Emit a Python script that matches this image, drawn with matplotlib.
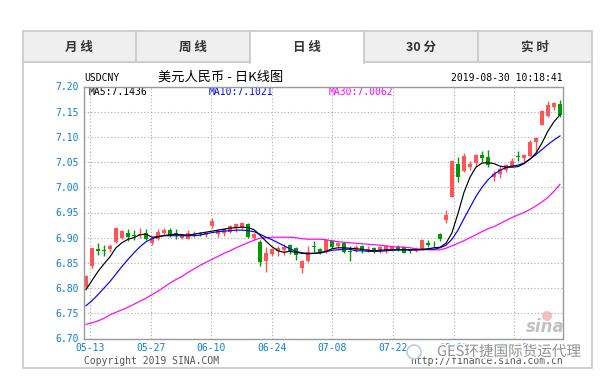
import numpy as np
import matplotlib
matplotlib.use('Agg')
import matplotlib.pyplot as plt
from matplotlib.patches import Rectangle, Circle
import matplotlib.patheffects as pe

MONO = ['DejaVu Sans Mono', 'Noto Sans CJK SC']
CJK = ['Noto Sans CJK SC', 'DejaVu Sans']

# daily candles, USD/CNY
opens = [6.803, 6.843, 6.877, 6.876, 6.877, 6.892, 6.900, 6.909, 6.906, 6.906,
         6.910, 6.890, 6.897, 6.909, 6.915, 6.909, 6.900, 6.898, 6.905, 6.909,
         6.905, 6.923, 6.907, 6.909, 6.912, 6.919, 6.922, 6.927, 6.899, 6.891,
         6.854, 6.868, 6.874, 6.876, 6.885, 6.879, 6.839, 6.854, 6.883, 6.877,
         6.872, 6.894, 6.884, 6.889, 6.873, 6.876, 6.884, 6.876, 6.879, 6.876,
         6.876, 6.877, 6.882, 6.882, 6.875, 6.874, 6.877, 6.890, 6.888, 6.907,
         6.935, 6.981, 7.046, 7.033, 7.040, 7.049, 7.064, 7.060, 7.021, 7.026,
         7.034, 7.042, 7.062, 7.058, 7.063, 7.090, 7.124, 7.141, 7.159, 7.165]
highs = [6.826, 6.880, 6.889, 6.886, 6.888, 6.922, 6.916, 6.917, 6.916, 6.920,
         6.917, 6.901, 6.917, 6.920, 6.920, 6.917, 6.908, 6.916, 6.914, 6.912,
         6.911, 6.939, 6.918, 6.920, 6.926, 6.930, 6.932, 6.930, 6.910, 6.895,
         6.881, 6.880, 6.884, 6.888, 6.888, 6.882, 6.856, 6.884, 6.894, 6.879,
         6.896, 6.896, 6.892, 6.892, 6.884, 6.885, 6.885, 6.883, 6.882, 6.884,
         6.886, 6.884, 6.886, 6.884, 6.877, 6.882, 6.897, 6.895, 6.893, 6.910,
         6.954, 7.054, 7.060, 7.069, 7.052, 7.067, 7.072, 7.074, 7.032, 7.042,
         7.046, 7.058, 7.072, 7.066, 7.093, 7.100, 7.154, 7.172, 7.170, 7.173]
lows = [6.800, 6.840, 6.865, 6.864, 6.872, 6.889, 6.897, 6.893, 6.896, 6.900,
        6.896, 6.885, 6.895, 6.905, 6.902, 6.897, 6.897, 6.897, 6.902, 6.904,
        6.902, 6.919, 6.902, 6.903, 6.909, 6.912, 6.917, 6.900, 6.895, 6.843,
        6.831, 6.864, 6.864, 6.866, 6.868, 6.856, 6.829, 6.851, 6.871, 6.867,
        6.870, 6.879, 6.879, 6.870, 6.854, 6.872, 6.869, 6.871, 6.869, 6.870,
        6.870, 6.873, 6.874, 6.869, 6.869, 6.872, 6.876, 6.881, 6.881, 6.894,
        6.929, 6.980, 7.011, 7.031, 7.034, 7.042, 7.051, 7.041, 7.012, 7.018,
        7.030, 7.040, 7.052, 7.050, 7.062, 7.071, 7.123, 7.139, 7.154, 7.140]
closes = [6.824, 6.879, 6.874, 6.873, 6.884, 6.920, 6.914, 6.901, 6.904, 6.908,
          6.898, 6.899, 6.911, 6.915, 6.905, 6.906, 6.904, 6.909, 6.907, 6.908,
          6.909, 6.934, 6.913, 6.917, 6.923, 6.927, 6.929, 6.902, 6.907, 6.851,
          6.870, 6.877, 6.879, 6.882, 6.874, 6.866, 6.853, 6.872, 6.882, 6.870,
          6.895, 6.882, 6.890, 6.872, 6.871, 6.881, 6.876, 6.878, 6.871, 6.882,
          6.884, 6.882, 6.877, 6.870, 6.874, 6.879, 6.895, 6.885, 6.887, 6.898,
          6.945, 7.053, 7.020, 7.062, 7.046, 7.064, 7.059, 7.044, 7.026, 7.036,
          7.044, 7.053, 7.060, 7.064, 7.089, 7.098, 7.152, 7.163, 7.167, 7.143]

ma5 = [6.797, 6.815, 6.833, 6.848, 6.862, 6.880, 6.890, 6.897, 6.900, 6.906,
       6.907, 6.901, 6.902, 6.904, 6.906, 6.907, 6.906, 6.905, 6.907, 6.909,
       6.911, 6.913, 6.915, 6.917, 6.919, 6.920, 6.921, 6.920, 6.916, 6.905,
       6.893, 6.882, 6.874, 6.871, 6.873, 6.871, 6.869, 6.868, 6.869, 6.870,
       6.873, 6.878, 6.880, 6.880, 6.879, 6.878, 6.877, 6.875, 6.874, 6.875,
       6.876, 6.876, 6.876, 6.876, 6.876, 6.876, 6.877, 6.878, 6.880, 6.881,
       6.889, 6.910, 6.948, 6.990, 7.020, 7.040, 7.048, 7.049, 7.047, 7.042,
       7.040, 7.040, 7.041, 7.047, 7.056, 7.068, 7.088, 7.112, 7.130, 7.144]
ma10 = [6.765, 6.775, 6.787, 6.800, 6.813, 6.828, 6.843, 6.857, 6.870, 6.882,
        6.892, 6.898, 6.902, 6.904, 6.904, 6.904, 6.904, 6.904, 6.904, 6.905,
        6.908, 6.910, 6.912, 6.913, 6.914, 6.915, 6.915, 6.914, 6.912, 6.907,
        6.901, 6.896, 6.890, 6.884, 6.878, 6.873, 6.870, 6.869, 6.869, 6.870,
        6.872, 6.875, 6.876, 6.877, 6.877, 6.874, 6.874, 6.873, 6.873, 6.873,
        6.874, 6.875, 6.876, 6.876, 6.876, 6.876, 6.876, 6.877, 6.877, 6.880,
        6.885, 6.897, 6.915, 6.938, 6.960, 6.982, 7.000, 7.015, 7.026, 7.034,
        7.039, 7.042, 7.044, 7.048, 7.056, 7.065, 7.075, 7.085, 7.094, 7.102]
ma30 = [6.728, 6.731, 6.735, 6.740, 6.747, 6.752, 6.757, 6.762, 6.768, 6.774,
        6.780, 6.787, 6.794, 6.802, 6.810, 6.817, 6.823, 6.831, 6.838, 6.845,
        6.851, 6.857, 6.863, 6.869, 6.874, 6.880, 6.885, 6.890, 6.895, 6.899,
        6.900, 6.901, 6.901, 6.901, 6.901, 6.900, 6.898, 6.897, 6.897, 6.897,
        6.896, 6.894, 6.892, 6.891, 6.890, 6.889, 6.888, 6.887, 6.886, 6.885,
        6.884, 6.882, 6.882, 6.881, 6.880, 6.878, 6.877, 6.876, 6.876, 6.876,
        6.879, 6.884, 6.889, 6.894, 6.900, 6.906, 6.912, 6.918, 6.922, 6.928,
        6.934, 6.940, 6.945, 6.950, 6.956, 6.963, 6.971, 6.980, 6.992, 7.006]

dates = ['05-13', '05-27', '06-10', '06-24', '07-08', '07-22', '08-05', '08-19']
y_ticks = [6.70, 6.75, 6.80, 6.85, 6.90, 6.95, 7.00, 7.05, 7.10, 7.15, 7.20]
tabs = ['月 线', '周 线', '日 线', '30 分', '实 时']
active_tab = 2
ma_labels = ['MA5:7.1436', 'MA10:7.1021', 'MA30:7.0062']

RED = '#ff5555'
GREEN = '#009a00'
BLUE_TXT = '#0a7fd2'
GRAY = '#cccccc'

W, H = 602, 379
fig = plt.figure(figsize=(W / 100, H / 100), dpi=100)

# background layer in pixel coords
bg = fig.add_axes([0, 0, 1, 1], zorder=0)
bg.set_xlim(0, W)
bg.set_ylim(H, 0)
bg.axis('off')

# panel + tabs
bg.add_patch(Rectangle((22.5, 62), 569, 306, fc='white', ec=GRAY, lw=1.3))
edges = np.linspace(22.5, 591.5, len(tabs) + 1)
for k, name in enumerate(tabs):
    x0, x1 = edges[k], edges[k + 1]
    if k == active_tab:
        bg.add_patch(Rectangle((x0, 31), x1 - x0, 32, fc='white', ec='none', zorder=3))
        bg.plot([x0, x0, x1, x1], [63, 31, 31, 63], color=GRAY, lw=1.3, zorder=4)
        ty = 48
    else:
        bg.add_patch(Rectangle((x0, 31), x1 - x0, 31, fc='#efefef', ec=GRAY, lw=1.3, zorder=2))
        ty = 47
    bg.text((x0 + x1) / 2, ty, name, ha='center', va='center', fontsize=9,
            fontweight='bold', color='#333333', family=CJK, zorder=5)

# headings
bg.text(84, 78, 'USDCNY', ha='left', va='center', fontsize=7, family=MONO, color='black')
bg.text(221, 77, '美元人民币 - 日K线图', ha='center', va='center', fontsize=9.5,
        family=CJK, color='black')
bg.text(563, 78, '2019-08-30 10:18:41', ha='right', va='center', fontsize=7,
        family=MONO, color='black')
bg.text(84, 361, 'Copyright 2019 SINA.COM', ha='left', va='center', fontsize=7,
        family=MONO, color='#555555')
bg.text(563, 361, 'http://finance.sina.com.cn', ha='right', va='center', fontsize=7,
        family=MONO, color='#555555')

# main chart
ax = fig.add_axes([84 / W, 1 - 338.5 / H, 479 / W, 252 / H], zorder=1)
ax.patch.set_alpha(0)
x = np.arange(len(closes))
o = np.array(opens)
c = np.array(closes)
cols = np.where(c >= o, RED, GREEN)
ax.vlines(x, lows, highs, colors=cols, lw=1, zorder=2)
body = np.maximum(np.abs(c - o), 0.0018)
ax.bar(x, body, bottom=(o + c) / 2 - body / 2, width=0.75, color=cols, lw=0, zorder=2)

ax.plot(x, ma30, color='#ff00ff', lw=0.85, zorder=3)
ax.plot(x, ma10, color='#0000ff', lw=0.85, zorder=3)
ax.plot(x, ma5, color='black', lw=0.85, zorder=3)

ax.set_xlim(-0.33, 79.5)
ax.set_ylim(6.70, 7.20)
ax.set_yticks(y_ticks)
ax.set_yticklabels([f'{v:.2f}' for v in y_ticks], family=MONO, fontsize=7, color=BLUE_TXT)
ax.set_xticks(0.67 + 10.1 * np.arange(len(dates)))
ax.set_xticklabels(dates, family=MONO, fontsize=7, color=BLUE_TXT)
ax.tick_params(length=0, pad=3.5)
ax.grid(True, color='#aaaaaa', linestyle=(0, (1, 2)), lw=0.8)
ax.set_axisbelow(True)
for s in ax.spines.values():
    s.set_color('#999999')
    s.set_linewidth(1)

ma_colors = ['black', '#0000ff', '#ff00ff']
for lab, mc, px in zip(ma_labels, ma_colors, [89, 209, 329]):
    bg.text(px, 92, lab, ha='left', va='center', fontsize=7, family=MONO, color=mc)

# overlay watermarks
top = fig.add_axes([0, 0, 1, 1], zorder=5)
top.set_xlim(0, W)
top.set_ylim(H, 0)
top.axis('off')
top.add_patch(Circle((547, 316), 5, fc='#f3b0b0', ec='none', alpha=0.8))
top.text(545, 327, 'sina', ha='center', va='center', fontsize=12, fontstyle='italic',
         fontweight='bold', color='#bbbbbb', family='DejaVu Sans', alpha=0.9)
top.add_patch(Circle((414, 352), 7, fc='white', ec='#b8c8d8', lw=1.2, alpha=0.9))
top.text(437, 352, 'GES环捷国际货运代理', ha='left', va='center', fontsize=10.5,
         family=CJK, color='#8a8a8a', alpha=0.9,
         path_effects=[pe.withStroke(linewidth=2.5, foreground='white')])

fig.savefig('out.png', dpi=100, facecolor='white')
